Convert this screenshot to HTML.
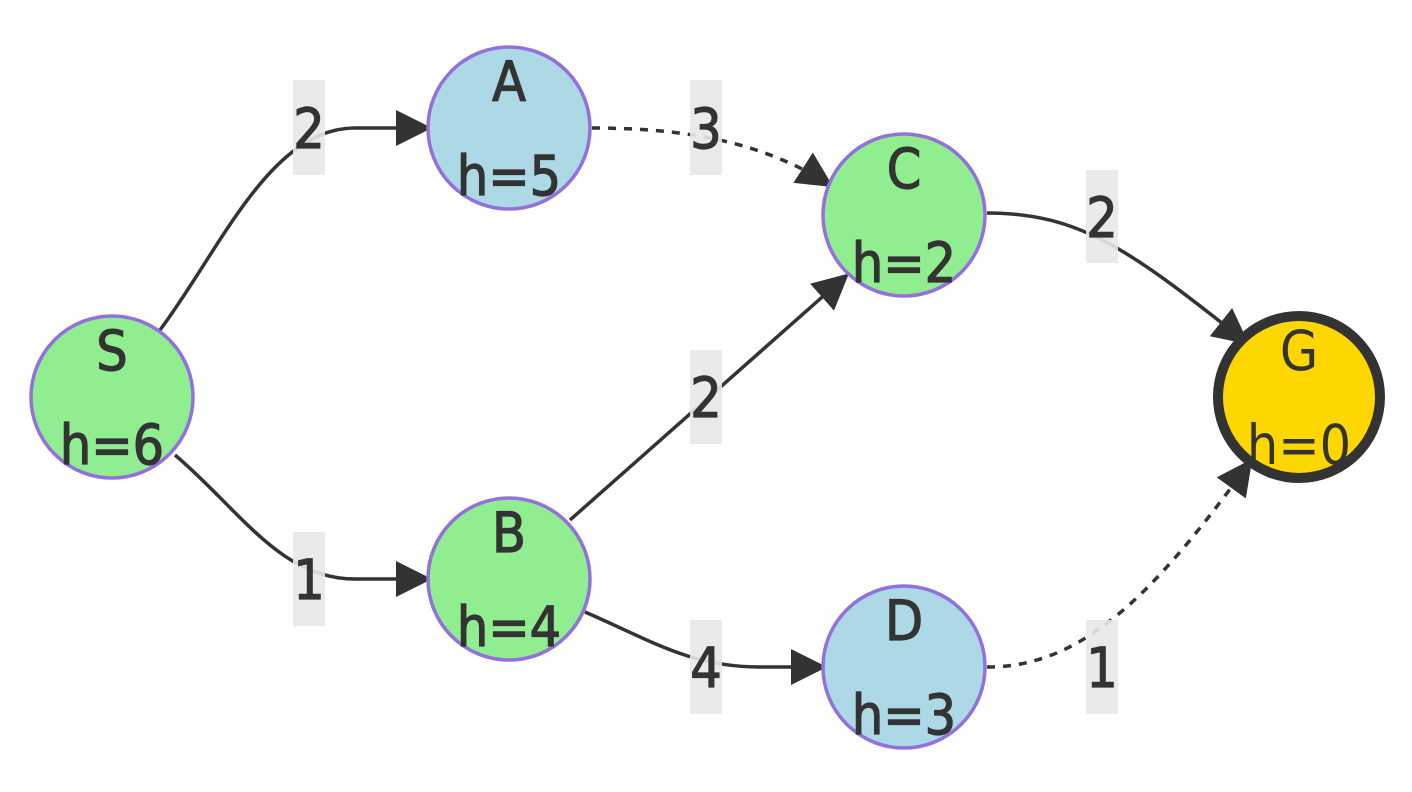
<!DOCTYPE html>
<html><head><meta charset="utf-8"><style>
html,body{margin:0;padding:0;background:#fff;}
svg{display:block;}
text{font-family:"DejaVu Sans Condensed","Liberation Sans",sans-serif;fill:#333;stroke:#333;stroke-width:1.2;font-size:55px;text-anchor:middle;}
</style></head><body>
<svg width="1412" height="792" viewBox="0 0 1412 792" xmlns="http://www.w3.org/2000/svg">
<defs>
<marker id="ah" markerUnits="userSpaceOnUse" markerWidth="36" markerHeight="36" refX="32" refY="18" orient="auto">
<path d="M0,0 L36,18 L0,36 z" fill="#333"/>
</marker>
</defs>
<g fill="none" stroke="#333" stroke-width="3.5">
<path d="M160,330 C220,250 270,128 355,128 L428,128" marker-end="url(#ah)"/>
<path d="M175,455 C240,510 280,579 355,579 L428,579" marker-end="url(#ah)"/>
<path d="M592,128 C680,128 760,140 830,185" stroke-dasharray="8,8" marker-end="url(#ah)"/>
<path d="M570,520 L846,276" marker-end="url(#ah)"/>
<path d="M585,612 C650,640 690,667 760,667 L823,667" marker-end="url(#ah)"/>
<path d="M987,213 C1080,213 1130,250 1246,342" marker-end="url(#ah)"/>
<path d="M987,667 C1080,667 1150,600 1250,462" stroke-dasharray="8,8" marker-end="url(#ah)"/>
</g>
<g fill="#e8e8e8" opacity="0.9">
<rect x="293" y="80" width="32" height="95"/>
<rect x="293" y="532" width="32" height="94"/>
<rect x="690" y="80" width="32" height="95"/>
<rect x="690" y="350" width="32" height="94"/>
<rect x="690" y="620" width="32" height="94"/>
<rect x="1086" y="170" width="32" height="93"/>
<rect x="1086" y="620" width="32" height="94"/>
</g>
<text x="309" y="148">2</text>
<text x="309" y="599">1</text>
<text x="706" y="148">3</text>
<text x="706" y="417">2</text>
<text x="706" y="687">4</text>
<text x="1102" y="237">2</text>
<text x="1102" y="687">1</text>
<g stroke="#9370db" stroke-width="3.5">
<circle cx="112" cy="397" r="81" fill="#90ee90"/>
<circle cx="509" cy="128" r="81" fill="#add8e6"/>
<circle cx="904" cy="215" r="81" fill="#90ee90"/>
<circle cx="509" cy="579" r="81" fill="#90ee90"/>
<circle cx="904" cy="667" r="81" fill="#add8e6"/>
</g>
<circle cx="1299" cy="397" r="81" fill="#ffd700" stroke="#333" stroke-width="10"/>
<text x="112" y="370">S</text><text x="112" y="464">h=6</text>
<text x="509" y="101">A</text><text x="509" y="195">h=5</text>
<text x="904" y="188">C</text><text x="904" y="282">h=2</text>
<text x="509" y="552">B</text><text x="509" y="646">h=4</text>
<text x="904" y="640">D</text><text x="904" y="734">h=3</text>
<text x="1299" y="370" style="stroke-width:0">G</text><text x="1299" y="464" style="stroke-width:0">h=0</text>
</svg>
</body></html>
